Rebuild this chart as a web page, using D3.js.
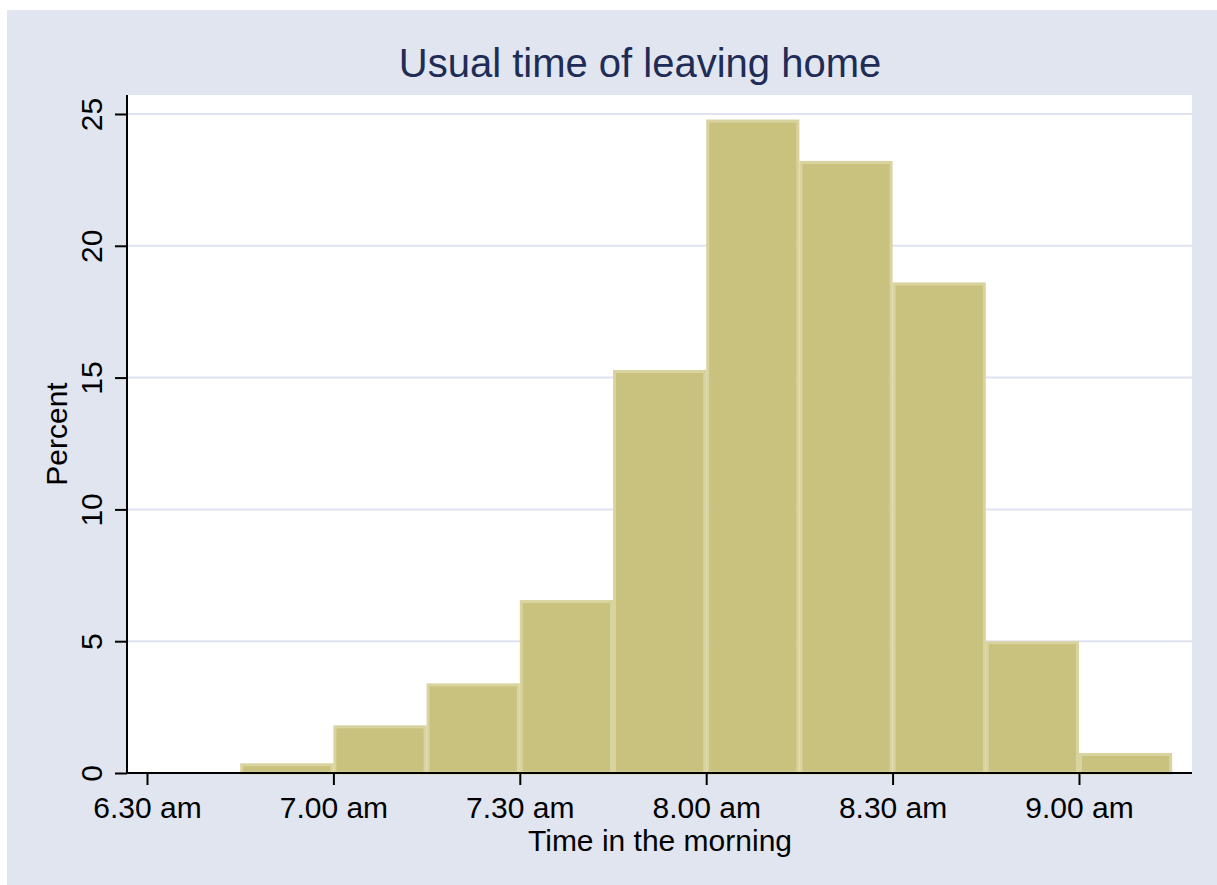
<!DOCTYPE html>
<html>
<head>
<meta charset="utf-8">
<script src="https://cdn.jsdelivr.net/npm/d3@7"></script>
<style>
  body { margin: 0; background: #fff; }
  text { font-family: "Liberation Sans", Arial, Helvetica, sans-serif; }
</style>
</head>
<body>
<svg id="chart"></svg>
<script>
// bins of 15 minutes, start time in minutes after midnight
var binStarts = [405, 420, 435, 450, 465, 480, 495, 510, 525, 540]
var binWidth = 15
var percents = [0.37, 1.81, 3.40, 6.56, 15.29, 24.79, 23.22, 18.61, 5.0, 0.76]

var xTicks = [390, 420, 450, 480, 510, 540]
var xTickLabels = ["6.30 am", "7.00 am", "7.30 am", "8.00 am", "8.30 am", "9.00 am"]
var yTicks = [0, 5, 10, 15, 20, 25]

var W = 1217, H = 885
var plot = {left: 127, right: 1192, top: 95, bottom: 773}

var svg = d3.select("#chart")
    .attr("width", W)
    .attr("height", H)

// outer graph region
svg.append("rect")
    .attr("x", 7).attr("y", 10)
    .attr("width", W - 7).attr("height", H - 10)
    .attr("fill", "#e0e5ef")

svg.append("rect")
    .attr("x", plot.left).attr("y", plot.top)
    .attr("width", plot.right - plot.left)
    .attr("height", plot.bottom - plot.top)
    .attr("fill", "#fff")

var x = d3.scaleLinear().domain([386.78, 558.19]).range([plot.left, plot.right])
var y = d3.scaleLinear().domain([0, 25.72]).range([plot.bottom, plot.top])

// grid
svg.append("g").selectAll("line")
    .data(yTicks.filter(function(d) { return d > 0 }))
  .enter().append("line")
    .attr("x1", plot.left).attr("x2", plot.right)
    .attr("y1", function(d) { return y(d) })
    .attr("y2", function(d) { return y(d) })
    .attr("stroke", "#dfe3f0")
    .attr("stroke-width", 2)

// bars
svg.append("g").selectAll("rect")
    .data(binStarts)
  .enter().append("rect")
    .attr("x", function(d) { return x(d) + 1.5 })
    .attr("y", function(d, i) { return y(percents[i]) + 1.5 })
    .attr("width", function(d) { return x(d + binWidth) - x(d) - 3 })
    .attr("height", function(d, i) { return y(0) - y(percents[i]) - 1.5 })
    .attr("fill", "#c9c27f")
    .attr("stroke", "#d9d49f")
    .attr("stroke-width", 3)

// y axis
var yAxis = svg.append("g")
    .attr("transform", "translate(" + plot.left + ",0)")
    .call(d3.axisLeft(y).tickValues(yTicks).tickSize(12).tickPadding(12))
yAxis.select(".domain").remove()
yAxis.append("line")
    .attr("x1", 0).attr("x2", 0)
    .attr("y1", plot.top).attr("y2", plot.bottom + 1)
    .attr("stroke", "#000").attr("stroke-width", 2)
yAxis.selectAll(".tick line").attr("stroke", "#000").attr("stroke-width", 2)
yAxis.selectAll(".tick text")
    .attr("fill", "#000")
    .style("font-size", "30px")
    .attr("x", null).attr("dy", null)
    .attr("transform", "translate(-25,0) rotate(-90)")
    .attr("text-anchor", "middle")

// x axis
var xAxis = svg.append("g")
    .attr("transform", "translate(0," + plot.bottom + ")")
    .call(d3.axisBottom(x).tickValues(xTicks)
      .tickFormat(function(d, i) { return xTickLabels[i] })
      .tickSize(12).tickPadding(6))
xAxis.select(".domain").remove()
xAxis.append("line")
    .attr("x1", plot.left - 1).attr("x2", plot.right)
    .attr("y1", 0).attr("y2", 0)
    .attr("stroke", "#000").attr("stroke-width", 2)
xAxis.selectAll(".tick line").attr("stroke", "#000").attr("stroke-width", 2)
xAxis.selectAll(".tick text")
    .attr("fill", "#000")
    .style("font-size", "30px")
    .attr("dy", null)
    .attr("y", 45)

// titles
svg.append("text")
    .attr("x", 640).attr("y", 77)
    .attr("text-anchor", "middle")
    .attr("fill", "#1e2c56")
    .style("font-size", "40px")
    .text("Usual time of leaving home")

svg.append("text")
    .attr("x", 660).attr("y", 851)
    .attr("text-anchor", "middle")
    .attr("fill", "#000")
    .style("font-size", "30px")
    .text("Time in the morning")

svg.append("text")
    .attr("transform", "translate(67," + ((plot.top + plot.bottom) / 2) + ") rotate(-90)")
    .attr("text-anchor", "middle")
    .attr("fill", "#000")
    .style("font-size", "30px")
    .text("Percent")
</script>
</body>
</html>
